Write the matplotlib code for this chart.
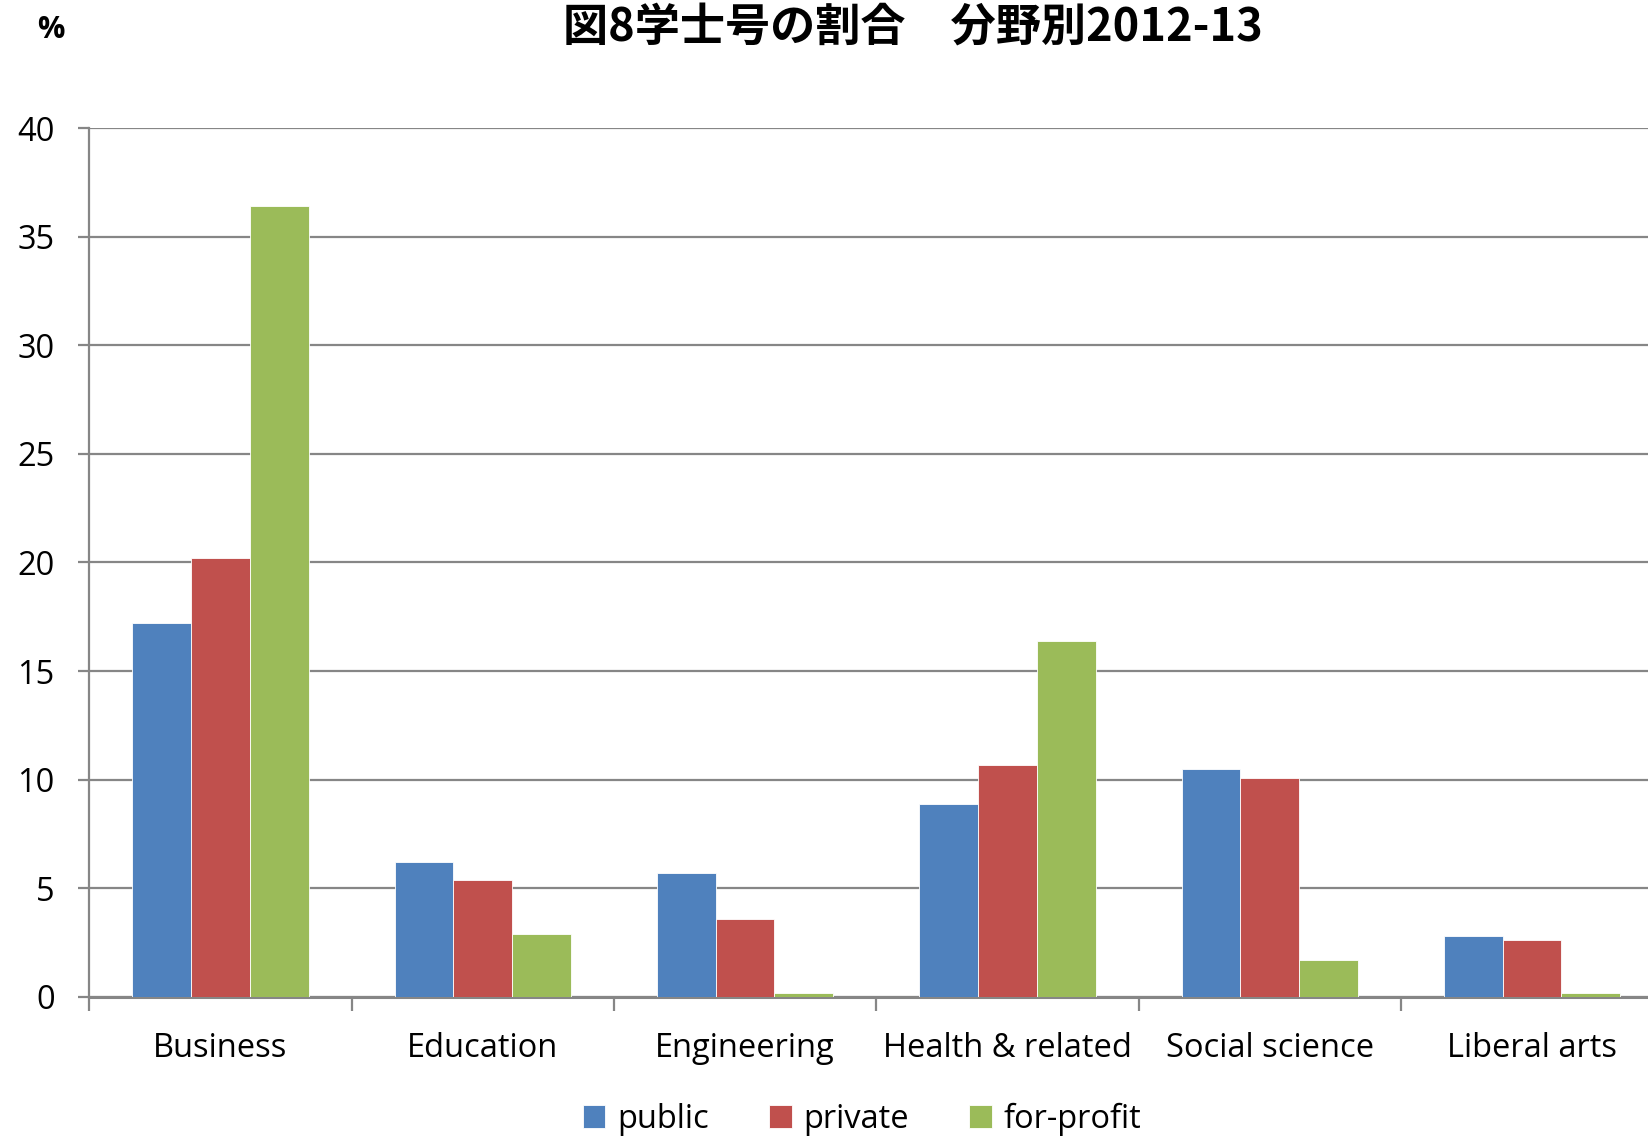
import numpy as np
import matplotlib.pyplot as plt

categories = ["Business", "Education", "Engineering", "Health & related",
              "Social science", "Liberal arts"]
public = [17.2, 6.2, 5.7, 8.9, 10.5, 2.8]
private = [20.2, 5.4, 3.6, 10.7, 10.1, 2.6]
for_profit = [36.4, 2.9, 0.2, 16.4, 1.7, 0.2]
series = ["public", "private", "for-profit"]
colors = ["#4F81BD", "#C0504D", "#9BBB59"]

plt.rcParams['font.family'] = ['Open Sans', 'DejaVu Sans']

fig = plt.figure(figsize=(16.48, 11.39), dpi=100)
# axis runs a little past the right edge, like the original
ax = fig.add_axes([0.0542, 0.1247, 0.955, 0.7629])

x = np.arange(len(categories))
w = 0.224
for i, (vals, name, c) in enumerate(zip([public, private, for_profit], series, colors)):
    ax.bar(x + (i - 1) * w, vals, width=w, color=c, label=name,
           edgecolor="white", linewidth=0.6, zorder=3)

ax.set_xlim(-0.5, len(categories) - 0.5)
ax.set_ylim(0, 40)
ax.set_yticks(range(0, 41, 5))
ax.yaxis.grid(True, color="#868686", linewidth=1.6, zorder=0)

# category ticks sit on the boundaries, labels in the middle
ax.set_xticks(np.arange(len(categories) + 1) - 0.5)
ax.set_xticklabels([])
ax.set_xticks(x, minor=True)
ax.set_xticklabels(categories, minor=True, fontsize=23.5)
ax.tick_params(axis="x", which="minor", length=0, pad=25)
ax.tick_params(axis="x", which="major", length=10, width=1.6, color="#868686")
ax.tick_params(axis="y", length=8, width=1.6, color="#868686", labelsize=23.5, pad=17)

for s in ["top", "right"]:
    ax.spines[s].set_visible(False)
ax.spines["left"].set_color("#868686")
ax.spines["left"].set_linewidth(1.6)
ax.spines["bottom"].set_color("#868686")
ax.spines["bottom"].set_linewidth(2.2)

fig.text(0.554, 0.976, "図8学士号の割合　分野別2012-13", ha="center", va="center",
         fontsize=32.5, fontweight="bold", family=["Noto Sans CJK JP", "DejaVu Sans"])
fig.text(0.031, 0.974, "%", ha="center", va="center", fontsize=22, fontweight="bold")

fig.legend(loc="center", bbox_to_anchor=(0.523, 0.017), ncol=3, frameon=False,
           fontsize=23.5, handlelength=0.7, handleheight=0.7, handletextpad=0.35,
           columnspacing=1.85)

fig.savefig("out.png", dpi=100)
